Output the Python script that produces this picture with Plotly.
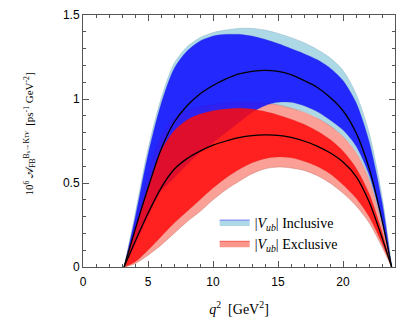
import plotly.graph_objects as go

# q^2 grid [GeV^2]
q2 = [3.16, 4, 5, 6, 7, 8, 9, 10, 11, 12, 13, 14, 15, 16, 17, 18, 19, 20, 21, 22, 23, 23.74]

# Inclusive |Vub|
inc_outer_up = [0, 0.31, 0.70, 1.00, 1.21, 1.31, 1.365, 1.395, 1.41, 1.42, 1.42, 1.41, 1.39, 1.365, 1.335, 1.295, 1.245, 1.17, 1.03, 0.80, 0.42, 0]
inc_inner_up = [0, 0.29, 0.67, 0.97, 1.18, 1.285, 1.345, 1.375, 1.385, 1.385, 1.375, 1.355, 1.33, 1.30, 1.27, 1.235, 1.185, 1.11, 0.98, 0.75, 0.39, 0]
inc_central = [0, 0.22, 0.47, 0.70, 0.86, 0.96, 1.03, 1.08, 1.12, 1.15, 1.165, 1.17, 1.165, 1.145, 1.11, 1.07, 1.01, 0.93, 0.80, 0.59, 0.28, 0]
inc_inner_lo = [0, 0.13, 0.30, 0.45, 0.53, 0.61, 0.68, 0.74, 0.80, 0.86, 0.92, 0.96, 0.98, 0.98, 0.96, 0.925, 0.875, 0.815, 0.72, 0.55, 0.27, 0]
inc_outer_lo = [0, 0.12, 0.28, 0.42, 0.50, 0.58, 0.65, 0.71, 0.77, 0.83, 0.885, 0.925, 0.945, 0.945, 0.925, 0.89, 0.84, 0.78, 0.69, 0.53, 0.26, 0]

# Exclusive |Vub|
exc_outer_up = [0, 0.26, 0.55, 0.78, 0.88, 0.93, 0.955, 0.968, 0.975, 0.98, 0.98, 0.975, 0.965, 0.945, 0.92, 0.885, 0.84, 0.775, 0.68, 0.52, 0.25, 0]
exc_inner_up = [0, 0.22, 0.47, 0.69, 0.81, 0.875, 0.91, 0.93, 0.94, 0.945, 0.94, 0.925, 0.905, 0.88, 0.85, 0.81, 0.76, 0.69, 0.59, 0.44, 0.21, 0]
exc_central = [0, 0.15, 0.32, 0.47, 0.58, 0.645, 0.69, 0.725, 0.75, 0.77, 0.782, 0.786, 0.784, 0.772, 0.75, 0.72, 0.68, 0.625, 0.54, 0.39, 0.175, 0]
exc_inner_lo = [0, 0.03, 0.10, 0.18, 0.26, 0.33, 0.40, 0.47, 0.53, 0.58, 0.62, 0.645, 0.655, 0.65, 0.63, 0.60, 0.555, 0.49, 0.41, 0.30, 0.14, 0]
exc_outer_lo = [0, 0.02, 0.07, 0.13, 0.20, 0.27, 0.33, 0.40, 0.46, 0.51, 0.555, 0.585, 0.595, 0.59, 0.575, 0.545, 0.50, 0.44, 0.365, 0.265, 0.12, 0]

x_ticks = [0, 5, 10, 15, 20]
y_ticks = [0, 0.5, 1, 1.5]
y_tick_text = ["0", "0.5", "1", "1.5"]

LIGHTBLUE = "rgb(173,216,230)"
BLUE = "rgba(10,10,255,0.85)"
SALMON = "rgb(250,160,150)"
RED = "rgba(255,10,10,0.85)"

fig = go.Figure()

def band(lo, up, fill, edge, width=0.6):
    fig.add_trace(go.Scatter(x=q2, y=lo, mode="lines", line=dict(color=edge, width=width, shape="spline", smoothing=0.8),
                             showlegend=False, hoverinfo="skip"))
    fig.add_trace(go.Scatter(x=q2, y=up, mode="lines", fill="tonexty", fillcolor=fill,
                             line=dict(color=edge, width=width, shape="spline", smoothing=0.8),
                             showlegend=False, hoverinfo="skip"))

band(inc_outer_lo, inc_outer_up, LIGHTBLUE, "rgb(150,190,205)")
band(exc_outer_lo, exc_outer_up, SALMON, "rgba(200,120,110,0.8)")
band(inc_inner_lo, inc_inner_up, BLUE, "rgba(60,60,200,0.6)", 0.4)
band(exc_inner_lo, exc_inner_up, RED, "rgba(200,40,40,0.5)", 0.4)

for c in (inc_central, exc_central):
    fig.add_trace(go.Scatter(x=q2, y=c, mode="lines", line=dict(color="black", width=1.3, shape="spline", smoothing=0.8),
                             showlegend=False, hoverinfo="skip"))

fig.add_trace(go.Scatter(x=[None], y=[None], mode="lines", fill="toself", fillcolor=LIGHTBLUE,
                         line=dict(color="rgb(120,120,255)", width=1),
                         name="|<i>V<sub>ub</sub></i>| Inclusive"))
fig.add_trace(go.Scatter(x=[None], y=[None], mode="lines", fill="toself", fillcolor="rgb(250,150,140)",
                         line=dict(color="rgb(240,90,80)", width=1),
                         name="|<i>V<sub>ub</sub></i>| Exclusive"))

axis_common = dict(showline=True, linecolor="#555", linewidth=1, mirror="ticks", ticks="inside",
                   tickcolor="#555", ticklen=6, tickwidth=1, showgrid=False, zeroline=False, automargin=False,
                   tickfont=dict(family="Liberation Sans, Arial", size=12, color="black"))

fig.update_xaxes(range=[0, 24], tickvals=x_ticks, ticktext=[str(t) for t in x_ticks],
                 ticklabelstandoff=4,
                 minor=dict(ticks="inside", ticklen=3, dtick=1, tickcolor="#555", showgrid=False),
                 title=dict(text="<i>q</i><sup>2</sup>  [GeV<sup>2</sup>]",
                            font=dict(family="Liberation Serif, Times New Roman", size=14, color="black"), standoff=15),
                 **axis_common)
fig.update_yaxes(range=[0, 1.5], tickvals=y_ticks, ticktext=y_tick_text,
                 minor=dict(ticks="inside", ticklen=3, dtick=0.1, tickcolor="#555", showgrid=False),
                 **axis_common)

fig.add_annotation(
    text="10<sup>6</sup> 𝒜<sub>FB</sub><sup>B<sub>s</sub>→Kτν</sup>  [ps<sup>-1</sup> GeV<sup>-2</sup>]",
    xref="paper", yref="paper", x=-0.17, y=0.53, xanchor="center", yanchor="middle",
    textangle=-90, showarrow=False,
    font=dict(family="Liberation Serif, Times New Roman", size=11, color="black"))

fig.update_layout(
    width=407, height=326,
    margin=dict(l=75, r=20, t=7, b=67),
    paper_bgcolor="white", plot_bgcolor="white",
    legend=dict(x=0.422, y=0.24, xanchor="left", yanchor="top", bgcolor="rgba(0,0,0,0)",
                traceorder="normal",
                font=dict(family="Liberation Serif, Times New Roman", size=14, color="black"),
                tracegroupgap=0, itemwidth=30),
)

fig.write_html("out.html")
